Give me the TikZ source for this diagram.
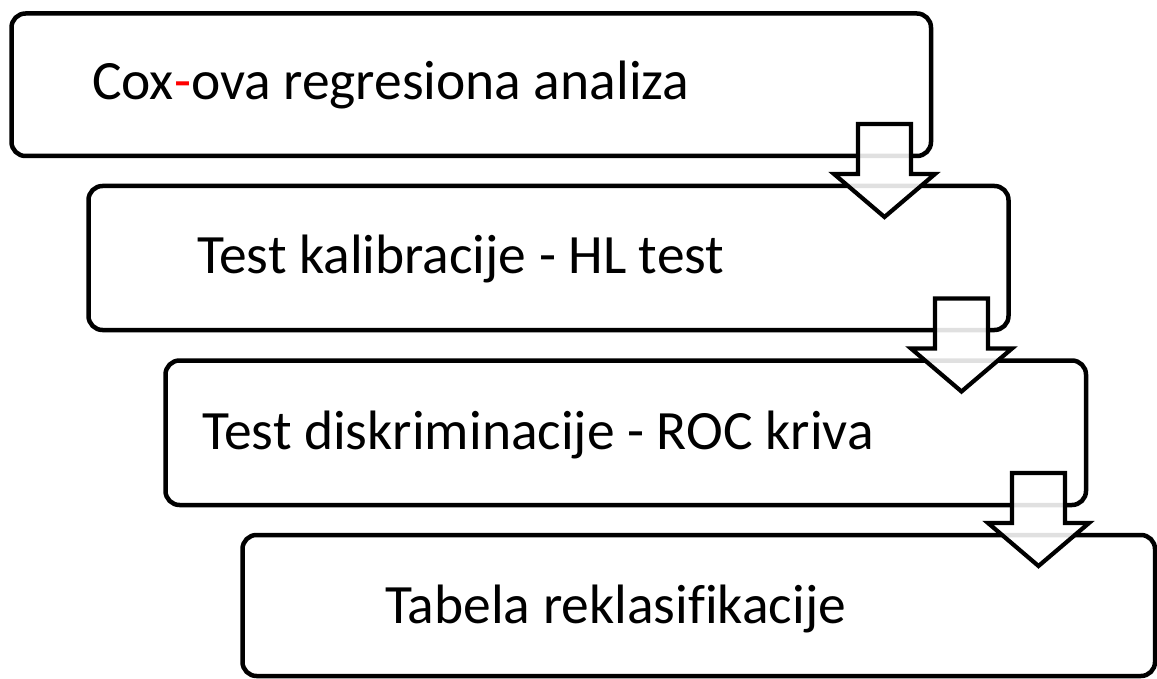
\documentclass[tikz,border=0pt]{standalone}
\usepackage{fontspec}
\setmainfont[Ligatures=NoCommon]{Carlito}
\begin{document}
\begin{tikzpicture}[x=1pt,y=-1pt,
  stage/.style={draw=black,line width=4.5pt,rounded corners=14pt,fill=white},
  label/.style={anchor=base west,inner sep=0pt,font=\fontsize{55.5}{62}\selectfont},
  flow/.style={draw=black,line width=4.2pt,fill=white,fill opacity=0.88,miter limit=10}]
\useasboundingbox (0,0) rectangle (1157,679);
% stage boxes, each shifted down and to the right
\draw[stage] (11.5,13.5) rectangle (931,156);
\draw[stage] (88.5,186) rectangle (1008.5,330);
\draw[stage] (165.5,360.5) rectangle (1086,505);
\draw[stage] (242.5,535) rectangle (1155,676);
% labels
\node[label] (t1) at (92,100) {Cox\textcolor{red}{-}ova regresiona analiza};
\node[label] (t2) at (197,273) {Test kalibracije - HL test};
\node[label] (t3) at (202,449) {Test diskriminacije - ROC kriva};
\node[label] (t4) at (385,623) {Tabela reklasifikacije};
% block arrows between stages
\foreach \i in {0,1,2}{
  \begin{scope}[shift={(77*\i,174.5*\i)}]
    \draw[flow] (858,124) -- (911,124) -- (911,174) -- (935,174) -- (884.5,217)
      -- (834,174) -- (858,174) -- cycle;
  \end{scope}
}
\end{tikzpicture}
\end{document}
